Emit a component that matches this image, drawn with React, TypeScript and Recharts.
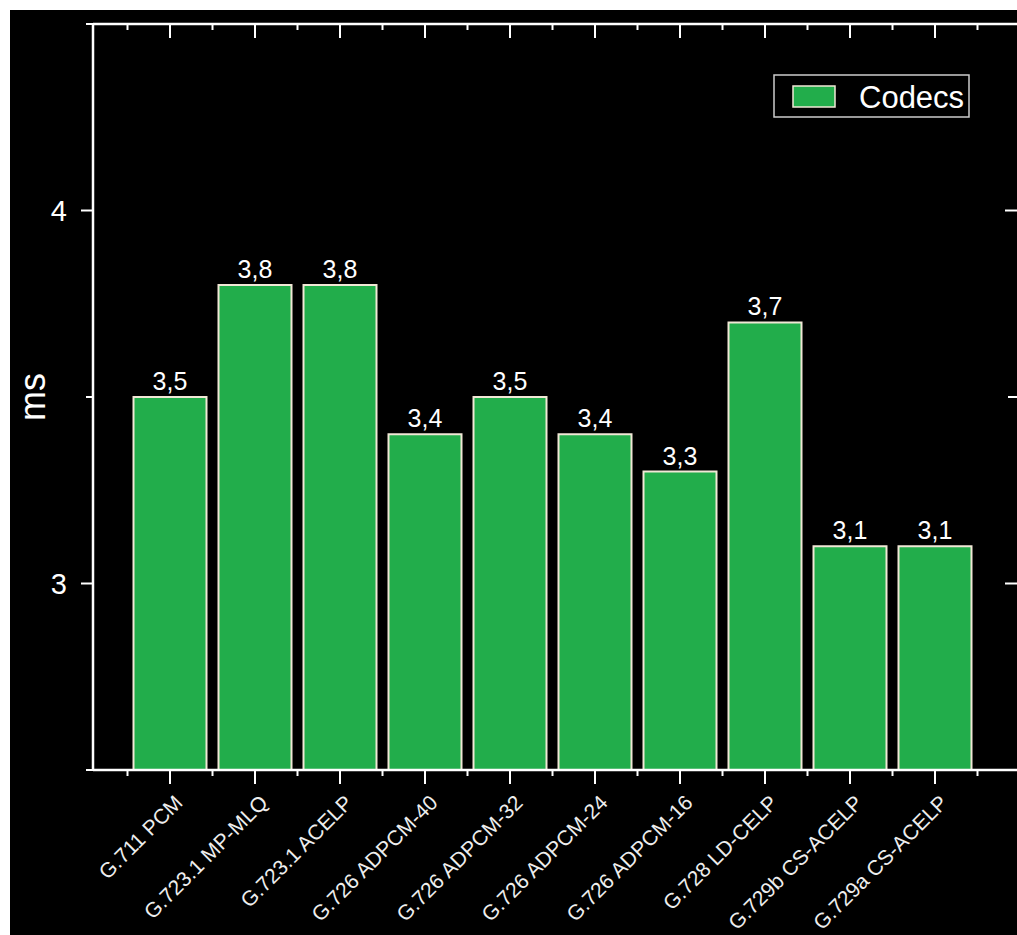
import React from 'react';
import { BarChart, Bar, XAxis, YAxis, Legend, LabelList } from 'recharts';

const codecs = [
  'G.711 PCM',
  'G.723.1 MP-MLQ',
  'G.723.1 ACELP',
  'G.726 ADPCM-40',
  'G.726 ADPCM-32',
  'G.726 ADPCM-24',
  'G.726 ADPCM-16',
  'G.728 LD-CELP',
  'G.729b CS-ACELP',
  'G.729a CS-ACELP',
];
const delays = [3.5, 3.8, 3.8, 3.4, 3.5, 3.4, 3.3, 3.7, 3.1, 3.1];
const yTicks = [2.5, 3, 3.5, 4, 4.5];

const data = codecs.map((codec, i) => ({ codec, ms: delays[i] }));

const FONT = '"Liberation Sans", Arial, sans-serif';
const GREEN = '#22ad4b';
const EDGE = '#f1e8d6';
const HALF_STEP = 42.5; // half of a category band, for the minor ticks

const toComma = (v: number) => String(v).replace('.', ',');

const BottomTick = ({ x, y, payload, index }: any) => {
  const lx = x + 14;
  const ly = y + 34;
  return (
    <g>
      <line x1={x} y1={y} x2={x} y2={y + 14} stroke="#fff" strokeWidth={2} />
      <line x1={x - HALF_STEP} y1={y} x2={x - HALF_STEP} y2={y + 6} stroke="#fff" strokeWidth={2} />
      {index === codecs.length - 1 && (
        <line x1={x + HALF_STEP} y1={y} x2={x + HALF_STEP} y2={y + 6} stroke="#fff" strokeWidth={2} />
      )}
      <text
        x={lx}
        y={ly}
        transform={`rotate(-45, ${lx}, ${ly})`}
        textAnchor="end"
        fill="#eee"
        fontSize={21}
        fontFamily={FONT}
      >
        {payload.value}
      </text>
    </g>
  );
};

const TopTick = ({ x, y, index }: any) => (
  <g>
    <line x1={x} y1={y} x2={x} y2={y + 14} stroke="#fff" strokeWidth={2} />
    <line x1={x - HALF_STEP} y1={y} x2={x - HALF_STEP} y2={y + 6} stroke="#fff" strokeWidth={2} />
    {index === codecs.length - 1 && (
      <line x1={x + HALF_STEP} y1={y} x2={x + HALF_STEP} y2={y + 6} stroke="#fff" strokeWidth={2} />
    )}
  </g>
);

const LeftTick = ({ x, y, payload }: any) => {
  const major = Number.isInteger(payload.value);
  return (
    <g>
      <line x1={x} y1={y} x2={x - (major ? 12 : 7)} y2={y} stroke="#fff" strokeWidth={2} />
      {major && (
        <text x={x - 26} y={y} textAnchor="end" dominantBaseline="central" fill="#fff" fontSize={29} fontFamily={FONT}>
          {payload.value}
        </text>
      )}
    </g>
  );
};

const RightTick = ({ x, y, payload }: any) => {
  const major = Number.isInteger(payload.value);
  return <line x1={x} y1={y} x2={x - (major ? 15 : 12)} y2={y} stroke="#fff" strokeWidth={2} />;
};

const LegendBox = () => (
  <svg width={198} height={45}>
    <rect x={1} y={1} width={195} height={42} fill="#000" stroke="#ccc" strokeWidth={1.5} />
    <rect x={20} y={12} width={42} height={21} fill={GREEN} stroke={EDGE} strokeWidth={1.5} />
    <text x={86} y={23} dominantBaseline="central" fill="#fff" fontSize={31} fontFamily={FONT}>
      Codecs
    </text>
  </svg>
);

const App = () => (
  <div
    style={{
      position: 'absolute',
      left: 10,
      top: 10,
      width: 1007,
      height: 925,
      overflow: 'hidden',
      background: '#000',
    }}
  >
    <BarChart width={1030} height={925} data={data} margin={{ top: 0, right: 0, bottom: 0, left: 0 }}>
      <XAxis
        dataKey="codec"
        height={165}
        interval={0}
        padding={{ left: 34.5, right: 42.5 }}
        axisLine={{ stroke: '#fff', strokeWidth: 2.5 }}
        tickLine={false}
        tickSize={0}
        tickMargin={0}
        tick={<BottomTick />}
      />
      <XAxis
        xAxisId="top"
        orientation="top"
        dataKey="codec"
        height={14}
        interval={0}
        padding={{ left: 34.5, right: 42.5 }}
        axisLine={{ stroke: '#fff', strokeWidth: 2.5 }}
        tickLine={false}
        tickSize={0}
        tickMargin={0}
        tick={<TopTick />}
      />
      <YAxis
        width={83}
        domain={[2.5, 4.5]}
        ticks={yTicks}
        interval={0}
        allowDataOverflow
        axisLine={{ stroke: '#fff', strokeWidth: 2.5 }}
        tickLine={false}
        tickSize={0}
        tickMargin={0}
        tick={<LeftTick />}
        label={({ viewBox }: any) => {
          const cx = viewBox.x + 22;
          const cy = viewBox.y + viewBox.height / 2;
          return (
            <text
              x={cx}
              y={cy}
              transform={`rotate(-90, ${cx}, ${cy})`}
              textAnchor="middle"
              dominantBaseline="central"
              fill="#fff"
              fontSize={36}
              fontFamily={FONT}
            >
              ms
            </text>
          );
        }}
      />
      <YAxis
        yAxisId="right"
        orientation="right"
        width={20}
        domain={[2.5, 4.5]}
        ticks={yTicks}
        interval={0}
        allowDataOverflow
        axisLine={{ stroke: '#fff', strokeWidth: 2.5 }}
        tickLine={false}
        tickSize={0}
        tickMargin={0}
        tick={<RightTick />}
      />
      <Legend
        layout="vertical"
        align="center"
        verticalAlign="middle"
        wrapperStyle={{ top: 64, left: 763, width: 198, height: 45 }}
        content={<LegendBox />}
      />
      <Bar dataKey="ms" name="Codecs" fill={GREEN} stroke={EDGE} strokeWidth={2} barSize={73} isAnimationActive={false}>
        <LabelList
          dataKey="ms"
          position="top"
          offset={7}
          formatter={(v: any) => toComma(v)}
          fill="#fff"
          fontSize={25}
          fontFamily={FONT}
        />
      </Bar>
    </BarChart>
  </div>
);

export default App;
